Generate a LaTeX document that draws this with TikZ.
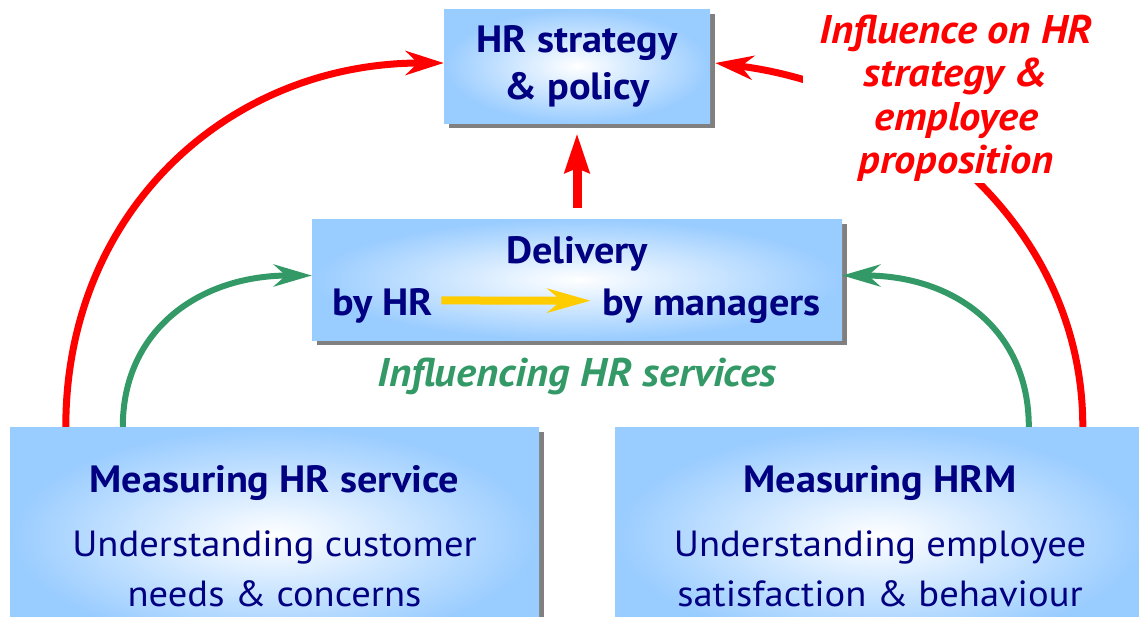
\documentclass[tikz,border=0pt]{standalone}
\usepackage{fontspec}
\setmainfont{PT Sans}[FakeStretch=1.06]
\usetikzlibrary{arrows.meta,shadows,positioning}
\definecolor{hrnavy}{RGB}{0,0,128}
\definecolor{hrred}{RGB}{255,0,0}
\definecolor{hrgreen}{RGB}{51,153,102}
\definecolor{hryellow}{RGB}{255,204,0}
\definecolor{hrblue}{RGB}{153,204,255}
\definecolor{hrshadow}{RGB}{128,128,128}
\newcommand\hrtitle{\bfseries\fontsize{38}{47}\selectfont}
\newcommand\hrbody{\fontsize{36.4}{50}\selectfont}
\newcommand\hrlabel{\bfseries\itshape\fontsize{40}{43.5}\selectfont}

\begin{document}
\begin{tikzpicture}[x=1pt, y=-1pt,
        hrbox/.style={rectangle, inner color=white, outer color=hrblue, inner sep=0pt, align=center, text=hrnavy,
            drop shadow={shadow xshift=5pt, shadow yshift=-5pt, fill=hrshadow, opacity=1}},
        boxtext/.style={text=hrnavy, inner sep=0pt},
        redarrow/.style={draw=hrred, line width=7pt, -{Stealth[length=38pt, width=24pt, inset=12pt]}},
        greenarrow/.style={draw=hrgreen, line width=6pt, -{Stealth[length=38pt, width=22pt, inset=12pt]}},
        uparrow/.style={draw=hrred, line width=9pt, -{Stealth[length=39pt, width=24pt, inset=4pt]}},
        yellowarrow/.style={draw=hryellow, line width=8pt, -{Stealth[length=43pt, width=24pt, inset=14pt]}}
    ]
        \useasboundingbox (0,0) rectangle (1139,616);
        \clip (0,0) rectangle (1139,616);

        % Boxes
        \node (strategy) [hrbox, minimum width=266pt, minimum height=114pt, font=\hrtitle] at (577,66) {HR strategy\\\& policy};
        \node (delivery) [hrbox, minimum width=530pt, minimum height=121pt] at (577,279.5) {};
        \node (hrservice) [hrbox, minimum width=529pt, minimum height=218pt, font=\hrbody] at (274.5,536)
            {{\hrtitle Measuring HR service}\\[14pt]Understanding customer\\needs \& concerns};
        \node (hrm) [hrbox, minimum width=530pt, minimum height=218pt, font=\hrbody] at (880,536)
            {{\hrtitle Measuring HRM}\\[14pt]Understanding employee\\satisfaction \& behaviour};

        % Delivery text
        \node (deltitle) [boxtext, anchor=base, font=\hrtitle] at (577,263) {Delivery};
        \node (byhr) [boxtext, anchor=base west, font=\hrtitle] at (332,315) {by HR};
        \node (bymgr) [boxtext, anchor=base east, font=\hrtitle] at (821,315) {by managers};
        \draw [yellowarrow, shorten <=8pt, shorten >=12pt] ([yshift=5pt]byhr.east) -- ([yshift=5pt]bymgr.west);

        % Arrows
        \draw [uparrow, shorten <=11pt, shorten >=10pt] (delivery.north) -- (strategy.south);
        \draw [greenarrow] ([xshift=113pt]hrservice.north west) .. controls +(0,-97) and +(-112,0) .. ([yshift=4pt]delivery.west);
        \draw [greenarrow] ([xshift=414pt]hrm.north west) .. controls +(0,-97) and +(112,0) .. ([yshift=4pt]delivery.east);
        \draw [redarrow] ([xshift=56pt]hrservice.north west) .. controls +(0,-217) and +(-214,0) .. ([yshift=3pt]strategy.west);
        \draw [redarrow] ([xshift=468pt]hrm.north west) .. controls +(0,-197) and +(200,25) .. ([xshift=5pt, yshift=3pt]strategy.east);

        % Labels
        \node (influence) [font=\hrlabel, text=hrred, fill=white, align=center, inner xsep=17pt, inner ysep=1pt] at (956,98)
            {Influence on HR\\strategy \&\\employee\\proposition};
        \node (services) [anchor=base, font=\hrlabel, text=hrgreen] at (577,386) {Influencing HR services};
    \end{tikzpicture}
\end{document}
